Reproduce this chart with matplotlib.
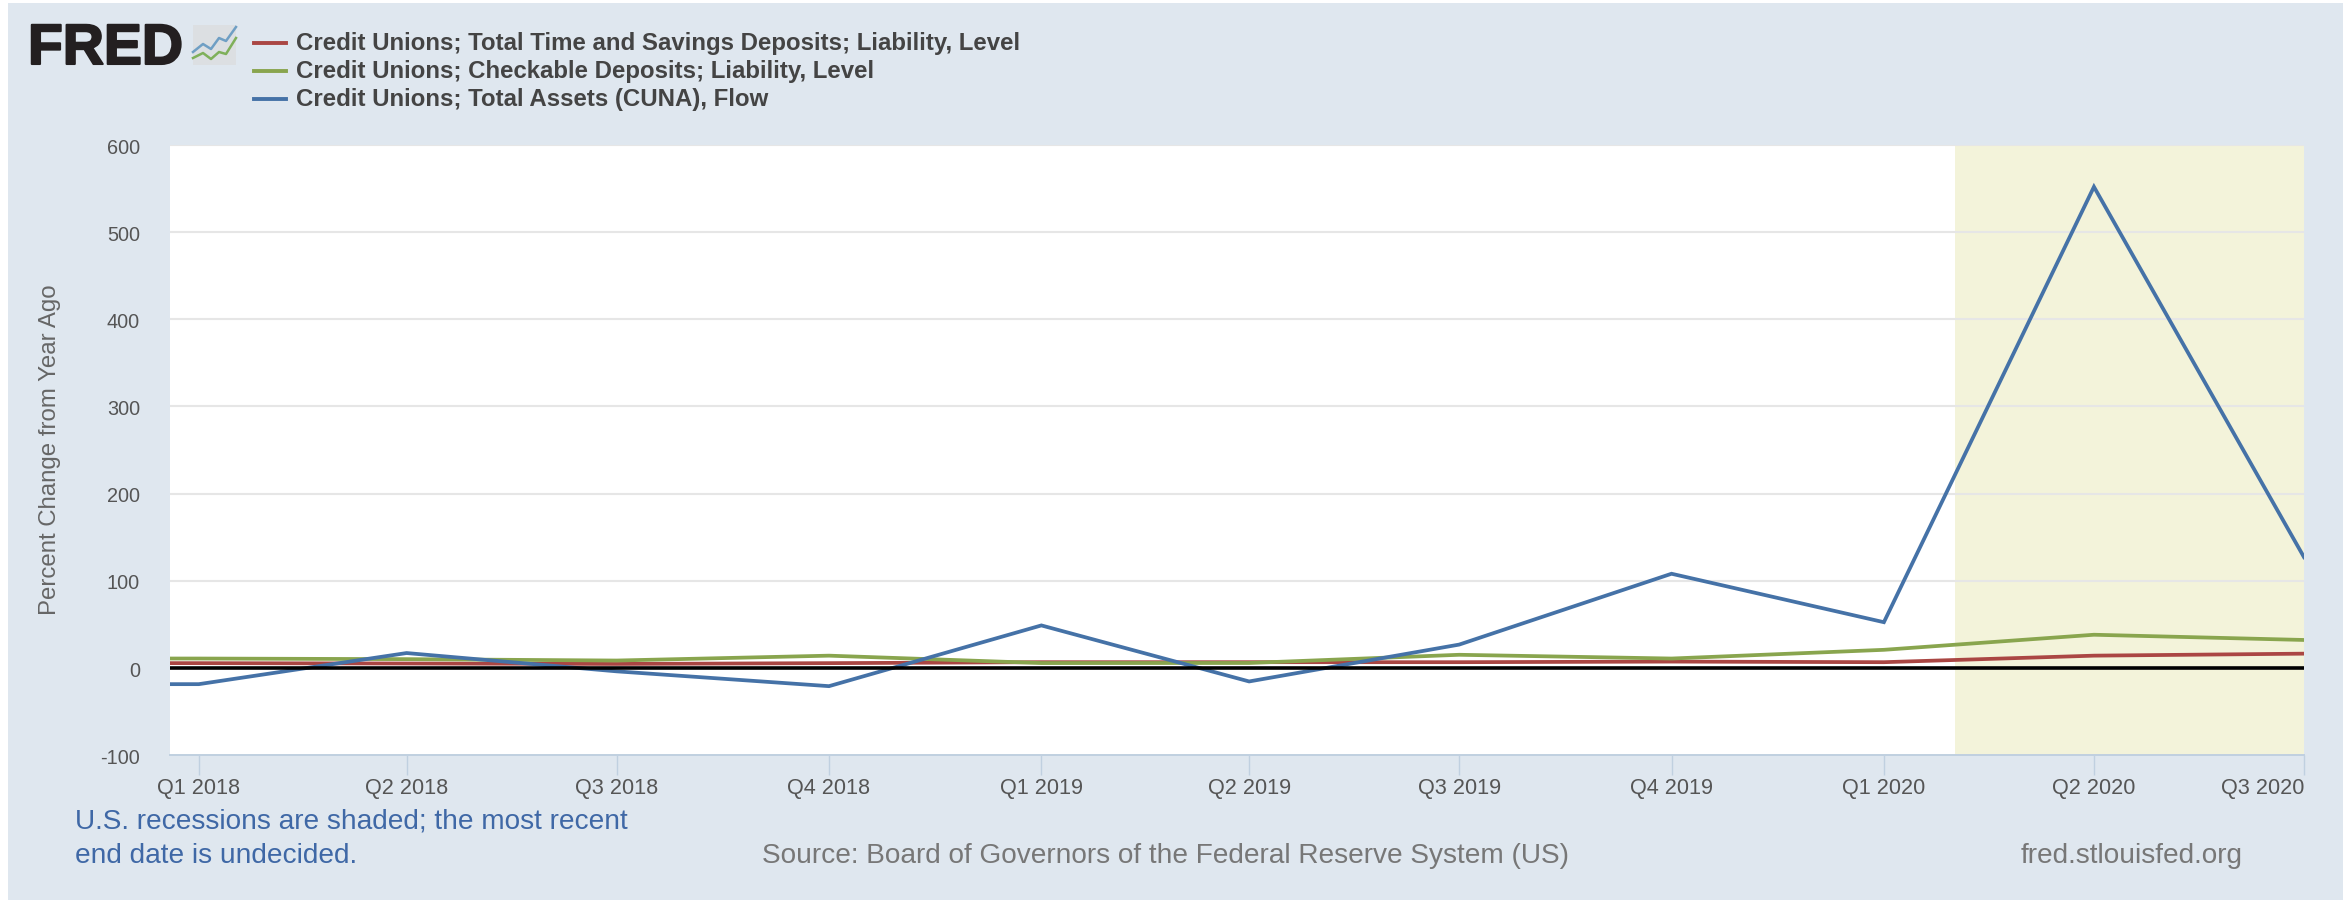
import matplotlib
matplotlib.use("Agg")
import matplotlib.pyplot as plt
import matplotlib.dates as mdates
import matplotlib.patheffects as pe
from matplotlib.patches import Rectangle, FancyBboxPatch
from matplotlib.lines import Line2D
from matplotlib.transforms import ScaledTranslation
import pandas as pd

# ---- data ----
dates = ["2017-10-01", "2018-01-01", "2018-04-01", "2018-07-01", "2018-10-01",
         "2019-01-01", "2019-04-01", "2019-07-01", "2019-10-01", "2020-01-01",
         "2020-04-01", "2020-07-01"]
time_savings = [5.5, 5.4, 5.0, 4.5, 5.4, 6.5, 6.5, 6.5, 7.2, 6.5, 14, 16.3]
checkable = [10.8, 10.7, 10, 8.4, 14, 5.5, 5.6, 15, 10.7, 20.7, 38, 32]
total_assets = [-18.7, -18.7, 17, -4, -21, 48.7, -15.6, 26.7, 108, 52.4, 552, 127]
series_names = ["Credit Unions; Total Time and Savings Deposits; Liability, Level",
                "Credit Unions; Checkable Deposits; Liability, Level",
                "Credit Unions; Total Assets (CUNA), Flow"]
tick_dates = dates[1:]
tick_labels = ["Q1 2018", "Q2 2018", "Q3 2018", "Q4 2018", "Q1 2019", "Q2 2019",
               "Q3 2019", "Q4 2019", "Q1 2020", "Q2 2020", "Q3 2020"]
y_ticks = [-100, 0, 100, 200, 300, 400, 500, 600]
recession_start = "2020-02-01"
y_label = "Percent Change from Year Ago"
note_lines = ["U.S. recessions are shaded; the most recent", "end date is undecided."]
source_text = "Source: Board of Governors of the Federal Reserve System (US)"
site_text = "fred.stlouisfed.org"

# ---- styles ----
W, H = 2346, 900
BG = "#dfe7ef"
RED, GREEN, BLUE = "#aa4643", "#89a54e", "#4572a7"
colors = [RED, GREEN, BLUE]
plt.rcParams["font.family"] = ["Liberation Sans", "DejaVu Sans"]
plt.rcParams["axes.unicode_minus"] = False

def fx(x): return x / W
def fy(y): return 1 - y / H

fig = plt.figure(figsize=(W / 100, H / 100), dpi=100, facecolor="white")
fig.patches.append(Rectangle((fx(8), 0), fx(2343 - 8), fy(3), transform=fig.transFigure,
                             facecolor=BG, edgecolor="none", zorder=-10))

PLOT_RIGHT = 2304
ax = fig.add_axes([fx(170), fy(755), fx(PLOT_RIGHT - 170), fy(145) - fy(755)])
ax.set_facecolor("white")
x = mdates.date2num(pd.to_datetime(dates))
x_left = mdates.date2num(pd.Timestamp("2017-12-19 12:00"))
ax.set_xlim(x_left, x[-1])
ax.set_ylim(-100, 600)

ax.axvspan(mdates.date2num(pd.Timestamp(recession_start)), x[-1],
           facecolor="#f3f3da", edgecolor="none", zorder=0)
ax.set_yticks(y_ticks)
ax.yaxis.grid(True, color="#e6e6e6", linewidth=1.5, zorder=1)
ax.set_axisbelow(False)
ax.yaxis.get_gridlines()[0].set_visible(False)

for values, c, z in zip([time_savings, checkable, total_assets], colors, [3, 4, 5]):
    ax.plot(x, values, color=c, linewidth=2.7, zorder=z, solid_joinstyle="miter")
ax.axhline(0, color="black", linewidth=2.6, zorder=6)

for s in ["top", "left", "right"]:
    ax.spines[s].set_visible(False)
ax.spines["bottom"].set_color("#c0d0e0")
ax.spines["bottom"].set_linewidth(1.4)

ax.set_xticks(mdates.date2num(pd.to_datetime(tick_dates)))
ax.set_xticklabels(tick_labels)
ax.tick_params(axis="x", length=14.4, width=1, color="#c0d0e0", labelsize=15.6,
               labelcolor="#555555", pad=2)
ax.tick_params(axis="y", length=0, labelsize=14.3, labelcolor="#555555", pad=21.6)
ax.get_xticklabels()[-1].set_ha("right")
shift = ScaledTranslation(0, -1.2 / 100, fig.dpi_scale_trans)
for lab in ax.get_yticklabels():
    lab.set_transform(lab.get_transform() + shift)

fig.text(fx(50), fy(450), y_label, rotation=90, ha="center", va="center",
         fontsize=17.3, color="#666666")

# legend
leg_y = [43, 71, 99]
for name, c, y in zip(series_names, colors, leg_y):
    fig.add_artist(Line2D([fx(254), fx(286)], [fy(y), fy(y)], color=c, linewidth=2.8,
                          transform=fig.transFigure))
    fig.text(fx(296), fy(y + 0.5), name, ha="left", va="center", fontsize=17.3,
             fontweight="bold", color="#444444")

# footer
fig.text(fx(75), fy(822), note_lines[0], ha="left", va="center", fontsize=20.2, color="#3f68a6")
fig.text(fx(75), fy(856), note_lines[1], ha="left", va="center", fontsize=20.2, color="#3f68a6")
fig.text(fx(762), fy(856), source_text, ha="left", va="center", fontsize=20.2, color="#777777")
fig.text(fx(2021), fy(856), site_text, ha="left", va="center", fontsize=20.2, color="#777777")

# FRED logo
fig.text(fx(28), fy(64), "FRED", ha="left", va="baseline", fontsize=41, fontweight="bold",
         color="#231f20", path_effects=[pe.withStroke(linewidth=1.5, foreground="#231f20")])
fig.patches.append(FancyBboxPatch((fx(193), fy(65)), fx(43), fy(25) - fy(65),
                                  boxstyle="round,pad=0", transform=fig.transFigure,
                                  facecolor="#dcdfe2", edgecolor="none", zorder=1))
icon_x = [193, 203, 211, 219, 226, 236]
icon_blue = [52, 44, 49, 38, 41, 27]
icon_green = [58, 53, 59, 52, 54, 38]
fig.add_artist(Line2D([fx(v) for v in icon_x], [fy(v) for v in icon_blue],
                      color="#6f9fc4", linewidth=1.8, transform=fig.transFigure))
fig.add_artist(Line2D([fx(v) for v in icon_x], [fy(v) for v in icon_green],
                      color="#7fb05a", linewidth=1.8, transform=fig.transFigure))

fig.savefig("out.png", dpi=100, facecolor=fig.get_facecolor())
